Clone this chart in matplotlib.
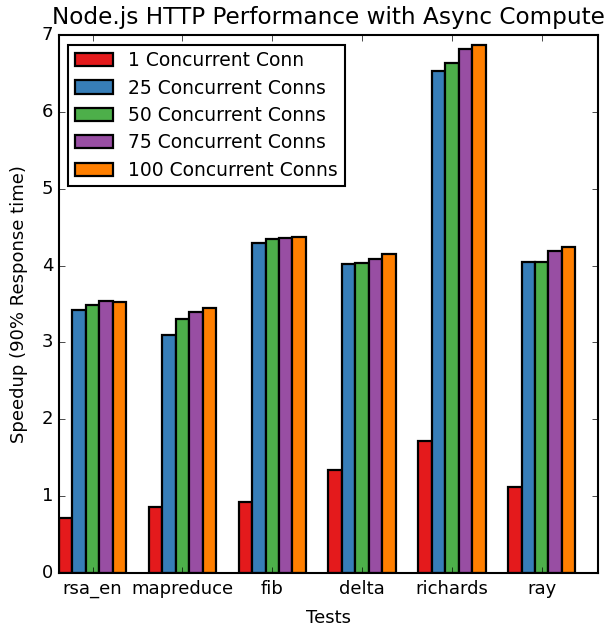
import numpy as np
import matplotlib
matplotlib.use('Agg')
import matplotlib.pyplot as plt

plt.style.use('classic')

tests = ['rsa_en', 'mapreduce', 'fib', 'delta', 'richards', 'ray']
series_labels = ['1 Concurrent Conn', '25 Concurrent Conns', '50 Concurrent Conns',
                 '75 Concurrent Conns', '100 Concurrent Conns']

conn_1 = [0.71, 0.86, 0.92, 1.34, 1.71, 1.12]
conn_25 = [3.42, 3.09, 4.29, 4.02, 6.53, 4.04]
conn_50 = [3.48, 3.31, 4.34, 4.03, 6.64, 4.04]
conn_75 = [3.54, 3.39, 4.355, 4.09, 6.82, 4.19]
conn_100 = [3.53, 3.45, 4.37, 4.15, 6.87, 4.24]

colors = ['#e41a1c', '#377eb8', '#4daf4a', '#984ea3', '#ff7f00']

fig = plt.figure(figsize=(6.07, 6.28), dpi=100, facecolor='white')
ax = fig.add_subplot(111)
fig.subplots_adjust(left=0.097, right=0.985, top=0.944, bottom=0.088)

ind = np.arange(len(tests))
width = 0.15
for i, vals in enumerate([conn_1, conn_25, conn_50, conn_75, conn_100]):
    ax.bar(ind + i * width, vals, width, align='edge', color=colors[i],
           edgecolor='black', linewidth=1.6, label=series_labels[i])

ax.set_xlim(0, len(tests))
ax.set_ylim(0, 7)
ax.set_xticks(ind + 2.5 * width)
ax.set_xticklabels(tests, va='center')
ax.tick_params(labelsize=13)
ax.tick_params(axis='x', pad=11.5)
ax.set_xlabel('Tests', fontsize=13, labelpad=8)
ax.set_ylabel('Speedup (90% Response time)', fontsize=13, labelpad=10)
ax.set_title('Node.js HTTP Performance with Async Compute', fontsize=16.7, y=1.008)

leg = ax.legend(loc='upper left', prop={'size': 13.5}, labelspacing=0.45,
                borderpad=0.35, handlelength=2.05, handleheight=0.7)
leg.get_frame().set_linewidth(1.5)
for sp in ax.spines.values():
    sp.set_linewidth(1.5)

plt.savefig('out.png', dpi=100, facecolor='white')
